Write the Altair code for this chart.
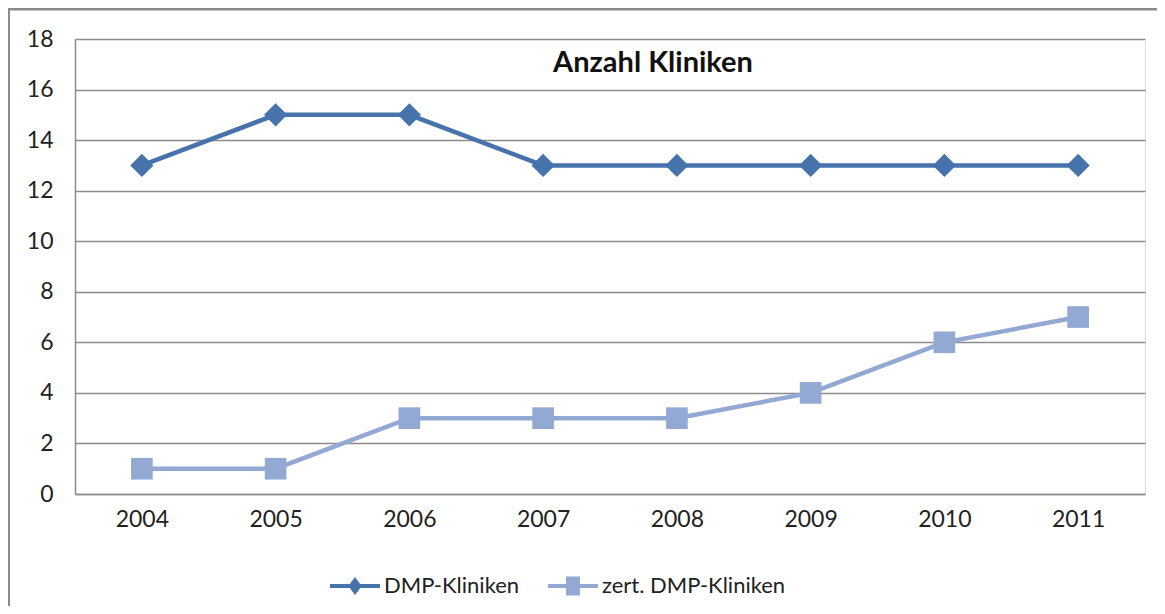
import altair as alt
import pandas as pd

years = ["2004", "2005", "2006", "2007", "2008", "2009", "2010", "2011"]
dmp_kliniken = [13, 15, 15, 13, 13, 13, 13, 13]
zert_dmp_kliniken = [1, 1, 3, 3, 3, 4, 6, 7]
series_names = ["DMP-Kliniken", "zert. DMP-Kliniken"]
series_colors = ["#4773ad", "#93a9d3"]
y_ticks = [0, 2, 4, 6, 8, 10, 12, 14, 16, 18]

rows = []
for name, vals in zip(series_names, [dmp_kliniken, zert_dmp_kliniken]):
    for yr, v in zip(years, vals):
        rows.append({"year": yr, "value": v, "series": name})
df = pd.DataFrame(rows)

FONT = "Lato"
W, H = 1070, 455

x_enc = alt.X("year:O", sort=years, title=None,
              scale=alt.Scale(type="point", padding=0.5),
              axis=alt.Axis(labelAngle=0, ticks=False, domain=True, domainColor="#8c8c8c",
                            domainWidth=1.5, grid=False, labelFont=FONT, labelFontSize=23,
                            labelColor="#222222", labelPadding=14))
y_axis = alt.Axis(values=y_ticks, ticks=False, domain=True, domainColor="#8c8c8c",
                  domainWidth=1.5, grid=True, gridColor="#8c8c8c", gridWidth=1.3,
                  labelFont=FONT, labelFontSize=23, labelColor="#222222",
                  labelPadding=22)
y_scale = alt.Scale(domain=[0, 18], nice=False, zero=True)
y_enc = alt.Y("value:Q", title=None, scale=y_scale, axis=y_axis)
color_scale = alt.Scale(domain=series_names, range=series_colors)

base = alt.Chart(df)
s1 = base.transform_filter(alt.datum.series == series_names[0])
s2 = base.transform_filter(alt.datum.series == series_names[1])

line1 = s1.mark_line(strokeWidth=4.5, color=series_colors[0]).encode(x=x_enc, y=y_enc)
line2 = s2.mark_line(strokeWidth=4.5, color=series_colors[1]).encode(x=x_enc, y=y_enc)

diamonds = s1.mark_point(
    shape="diamond", filled=True, size=540, opacity=1, color=series_colors[0]
).encode(x=x_enc, y=y_enc)

squares = s2.mark_point(
    shape="square", filled=True, size=470, opacity=1, color=series_colors[1]
).encode(x=x_enc, y=y_enc)

# legend symbols: line with marker in the middle
leg_diamond = ("M-1,-0.08L1,-0.08L1,0.08L-1,0.08Z"
               "M0,-0.36L0.27,0L0,0.36L-0.27,0Z")
leg_square = ("M-1,-0.08L1,-0.08L1,0.08L-1,0.08Z"
              "M-0.28,-0.38L0.28,-0.38L0.28,0.38L-0.28,0.38Z")

# legend-only layer: its points sit outside the y domain and are clipped away
legend_layer = base.transform_calculate(hidden="-100").mark_point(
    filled=True, opacity=1, clip=True
).encode(
    x=x_enc,
    y=alt.Y("hidden:Q", title=None, scale=y_scale, axis=y_axis),
    color=alt.Color("series:N", scale=color_scale,
                    legend=alt.Legend(title=None, orient="none", legendX=255, legendY=522,
                                      direction="horizontal", symbolSize=2500,
                                      symbolStrokeWidth=0, labelOffset=4,
                                      columnPadding=28, padding=0, labelFont=FONT,
                                      labelFontSize=22, labelColor="#222222",
                                      labelLimit=400, symbolOpacity=1)),
    shape=alt.Shape("series:N", scale=alt.Scale(domain=series_names,
                                                range=[leg_diamond, leg_square])),
)

frame = alt.Chart(alt.Data(values=[{"a": 1}])).mark_rect(
    fill=None, stroke="#8a8a8a", strokeWidth=3
).encode(
    x=alt.value(-66.5), x2=alt.value(1300),
    y=alt.value(-30), y2=alt.value(800),
)

chart = alt.layer(frame, line1, line2, diamonds, squares, legend_layer).properties(
    width=W, height=H,
    title=alt.TitleParams("Anzahl Kliniken", font=FONT, fontSize=29, fontWeight="bold",
                          color="#111111", anchor="middle", dx=43, dy=59, offset=-34,
                          baseline="alphabetic"),
    autosize=alt.AutoSizeParams(type="none"),
    padding={"left": 67, "top": 31, "right": 12, "bottom": 112},
).configure_view(stroke=None).configure(background="white")

chart.save("out.html", embed_options={"renderer": "svg", "actions": False})
